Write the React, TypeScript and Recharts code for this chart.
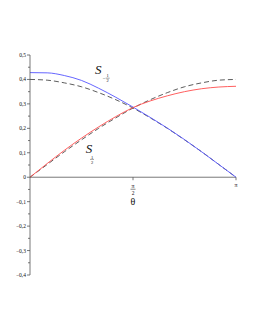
import { LineChart, Line, XAxis, YAxis, ReferenceLine, ReferenceDot } from "recharts";

const theta = [0, 0.2618, 0.5236, 0.7854, 1.0472, 1.309, 1.5708, 1.8326, 2.0944, 2.3562, 2.618, 2.8798, 3.1416];
const sMinusHalf = [0.428, 0.427, 0.416, 0.396, 0.364, 0.327, 0.287, 0.245, 0.201, 0.154, 0.104, 0.052, 0];
const sPlusHalf = [0, 0.056, 0.11, 0.16, 0.206, 0.248, 0.285, 0.312, 0.333, 0.35, 0.362, 0.369, 0.372];
const approxMinus = [0.4, 0.397, 0.386, 0.37, 0.346, 0.317, 0.283, 0.243, 0.2, 0.153, 0.104, 0.052, 0];
const approxPlus = [0, 0.052, 0.104, 0.153, 0.2, 0.243, 0.283, 0.317, 0.346, 0.37, 0.386, 0.397, 0.4];
const yTicks = [-0.4, -0.35, -0.3, -0.25, -0.2, -0.15, -0.1, -0.05, 0, 0.05, 0.1, 0.15, 0.2, 0.25, 0.3, 0.35, 0.4, 0.45, 0.5];

const data = theta.map((t, i) => ({
  theta: t,
  sMinusHalf: sMinusHalf[i],
  sPlusHalf: sPlusHalf[i],
  approxMinus: approxMinus[i],
  approxPlus: approxPlus[i],
}));

const AXIS = "#555";
const INK = "#111";
const FONT = "'Liberation Serif', 'DejaVu Serif', serif";

const fmt = (v: number) => {
  if (Math.abs(v) < 1e-9) return "0";
  return v.toFixed(1).replace(".", ",").replace("-", "\u2212");
};

const YTick = ({ x, y, payload }: any) => {
  const v = payload.value;
  const major = Math.abs(v * 10 - Math.round(v * 10)) < 1e-6;
  return (
    <g>
      <line x1={x - (major ? 3 : 2)} x2={x} y1={y} y2={y} stroke={AXIS} strokeWidth={0.8} />
      {major && (
        <text x={x - 4} y={y + 2} textAnchor="end" fontSize={5.5} fontFamily={FONT} fill={INK}>
          {fmt(v)}
        </text>
      )}
    </g>
  );
};

const PiHalfTick = ({ cx, cy }: any) => (
  <g fontFamily={FONT} fill={INK}>
    <line x1={cx} x2={cx} y1={cy} y2={cy + 3} stroke={AXIS} strokeWidth={0.8} />
    <text x={cx} y={cy + 10.5} textAnchor="middle" fontSize={6}>π</text>
    <line x1={cx - 2.5} x2={cx + 2.5} y1={cy + 12} y2={cy + 12} stroke={INK} strokeWidth={0.5} />
    <text x={cx} y={cy + 17.5} textAnchor="middle" fontSize={5.5}>2</text>
    <text x={cx} y={cy + 27.5} textAnchor="middle" fontSize={10}>θ</text>
  </g>
);

const PiTick = ({ cx, cy }: any) => (
  <g fontFamily={FONT} fill={INK}>
    <line x1={cx} x2={cx} y1={cy} y2={cy + 3} stroke={AXIS} strokeWidth={0.8} />
    <text x={cx} y={cy + 10} textAnchor="middle" fontSize={6}>π</text>
  </g>
);

const Fraction = ({ x, y }: { x: number; y: number }) => (
  <g>
    <text x={x} y={y - 0.8} textAnchor="middle" fontSize={4.5}>1</text>
    <line x1={x - 2} x2={x + 2} y1={y} y2={y} stroke={INK} strokeWidth={0.4} />
    <text x={x} y={y + 4.2} textAnchor="middle" fontSize={4.5}>2</text>
  </g>
);

const LabelMinus = ({ cx, cy }: any) => (
  <g fontFamily={FONT} fill={INK}>
    <text x={cx} y={cy + 4.5} textAnchor="middle" fontSize={13} fontStyle="italic">S</text>
    <text x={cx + 6} y={cy + 10} textAnchor="middle" fontSize={5}>−</text>
    <Fraction x={cx + 9.5} y={cy + 8.5} />
  </g>
);

const LabelPlus = ({ cx, cy }: any) => (
  <g fontFamily={FONT} fill={INK}>
    <text x={cx} y={cy + 4.5} textAnchor="middle" fontSize={13} fontStyle="italic">S</text>
    <Fraction x={cx + 3} y={cy + 11} />
  </g>
);

export default function App() {
  return (
    <div style={{ position: "absolute", left: 0, top: 0, background: "#fff" }}>
      <LineChart width={255} height={330} data={data} margin={{ top: 55, right: 19, bottom: 55, left: 0 }}>
        <XAxis type="number" dataKey="theta" domain={[0, 3.1416]} hide />
        <YAxis
          type="number"
          domain={[-0.4, 0.5]}
          ticks={yTicks}
          interval={0}
          width={30}
          tickLine={false}
          tickSize={0}
          tickMargin={0}
          axisLine={{ stroke: AXIS, strokeWidth: 0.8 }}
          tick={<YTick />}
        />
        <ReferenceLine y={0} stroke={AXIS} strokeWidth={0.8} />
        <ReferenceDot x={1.5708} y={0} r={0} shape={<PiHalfTick />} />
        <ReferenceDot x={3.1416} y={0} r={0} shape={<PiTick />} />
        <ReferenceDot x={1.04} y={0.44} r={0} shape={<LabelMinus />} />
        <ReferenceDot x={0.9} y={0.118} r={0} shape={<LabelPlus />} />
        <Line type="monotone" dataKey="approxMinus" stroke="#333" strokeWidth={0.8} strokeDasharray="5 3" dot={false} isAnimationActive={false} />
        <Line type="monotone" dataKey="approxPlus" stroke="#333" strokeWidth={0.8} strokeDasharray="5 3" dot={false} isAnimationActive={false} />
        <Line type="monotone" dataKey="sMinusHalf" stroke="#5555ff" strokeWidth={0.9} dot={false} isAnimationActive={false} />
        <Line type="monotone" dataKey="sPlusHalf" stroke="#ff4d4d" strokeWidth={0.9} dot={false} isAnimationActive={false} />
      </LineChart>
    </div>
  );
}
